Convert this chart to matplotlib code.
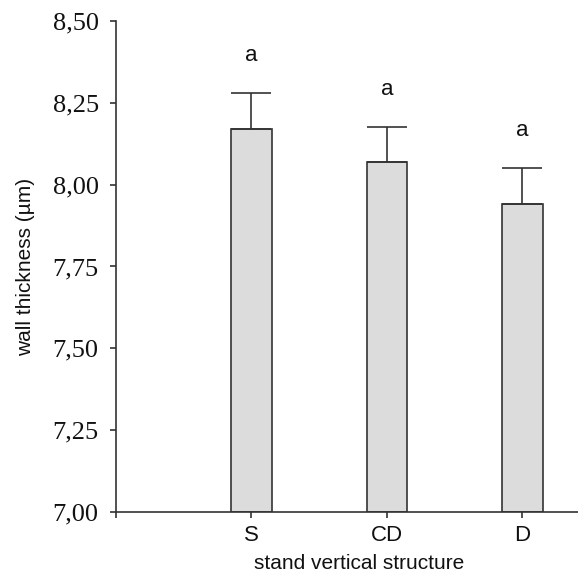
import matplotlib.pyplot as plt
import numpy as np

categories = ['S', 'CD', 'D']
means = [8.17, 8.07, 7.94]
se = [0.11, 0.105, 0.11]
letters = ['a', 'a', 'a']


def main():
    fig = plt.figure(figsize=(5.78, 5.78), dpi=100)
    ax = fig.add_axes([0.2007, 0.1142, 0.7993, 0.8495])

    x = np.arange(1, len(categories) + 1)
    ax.bar(x, np.array(means) - 7.0, bottom=7.0, width=0.3,
           color='#dcdcdc', edgecolor='#333333', linewidth=1.2, zorder=2)
    ax.errorbar(x, means, yerr=[np.zeros(len(se)), se], fmt='none',
                ecolor='#333333', elinewidth=1.2, capsize=14.4,
                capthick=1.2, zorder=3)

    for xi, m, s, lab in zip(x, means, se, letters):
        ax.text(xi, m + s + 0.115, lab, ha='center', va='center',
                fontsize=16, family='Liberation Sans', color='#111111')

    ax.set_xlim(0, 3.41)
    ax.set_ylim(7.0, 8.5)
    ax.set_xticks([0, 1, 2, 3])
    ax.set_xticklabels(['', 'S', 'CD', 'D'], family='Liberation Sans',
                       fontsize=16, color='#111111')
    yt = [7.0, 7.25, 7.5, 7.75, 8.0, 8.25, 8.5]
    ax.set_yticks(yt)
    ax.set_yticklabels([('%.2f' % v).replace('.', ',') for v in yt],
                       family='Liberation Serif', fontsize=19, color='#111111')

    ax.spines['top'].set_visible(False)
    ax.spines['right'].set_visible(False)
    for sp in ['left', 'bottom']:
        ax.spines[sp].set_color('#333333')
        ax.spines[sp].set_linewidth(1.2)
    ax.tick_params(axis='both', direction='out', length=4.5, width=1.2,
                   color='#333333')
    ax.tick_params(axis='y', pad=8)
    ax.tick_params(axis='x', pad=5)

    ax.set_ylabel('wall thickness (µm)', family='Liberation Sans',
                  fontsize=15, color='#111111')
    ax.set_xlabel('stand vertical structure', family='Liberation Sans',
                  fontsize=15, color='#111111')
    ax.yaxis.set_label_coords(-0.175, 0.5)
    ax.xaxis.set_label_coords(0.526, -0.085)

    fig.savefig('out.png', dpi=100)


if __name__ == '__main__':
    main()
